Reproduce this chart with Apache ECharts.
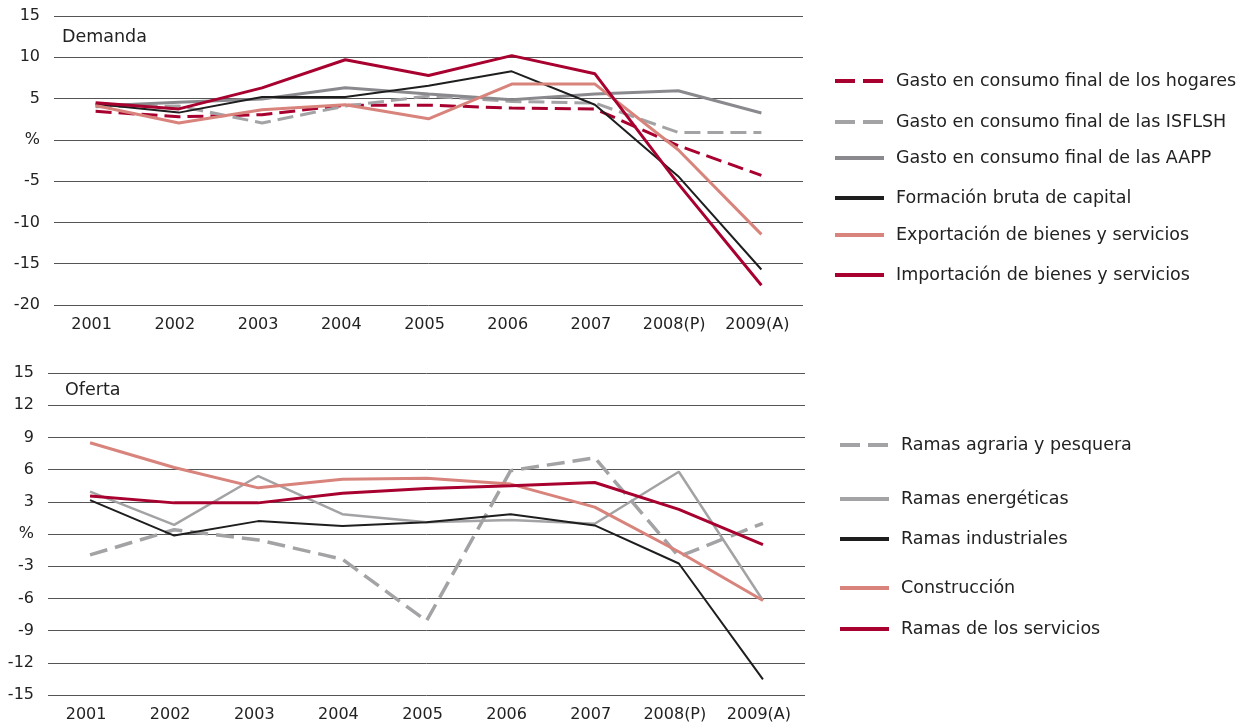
<!DOCTYPE html>
<html>
<head>
<meta charset="utf-8">
<title>Demanda y Oferta</title>
<script src="https://cdn.jsdelivr.net/npm/echarts@6/dist/echarts.min.js"></script>
<style>
  html, body { margin: 0; padding: 0; background: #fff; }
  #main { width: 1246px; height: 724px; }
</style>
</head>
<body>
<div id="main"></div>
<script>
// categorias (años)
var years = ['2001', '2002', '2003', '2004', '2005', '2006', '2007', '2008(P)', '2009(A)'];

// Demanda (%)
var hogares     = [3.45, 2.8, 3.05, 4.2, 4.2, 3.85, 3.75, -0.7, -4.3];
var isflsh      = [4.0, 4.1, 2.05, 4.1, 5.3, 4.65, 4.45, 0.9, 0.9];
var aapp        = [4.1, 4.55, 4.95, 6.3, 5.55, 4.85, 5.55, 5.95, 3.25];
var formacion   = [4.35, 3.3, 5.2, 5.2, 6.55, 8.3, 4.25, -4.4, -15.7];
var exportacion = [4.15, 2.05, 3.65, 4.25, 2.55, 6.75, 6.75, -1.2, -11.45];
var importacion = [4.5, 3.75, 6.3, 9.7, 7.8, 10.2, 8.0, -5.3, -17.6];

// Oferta (%)
var agraria      = [-1.95, 0.4, -0.55, -2.35, -8.1, 5.9, 7.1, -2.1, 1.0];
var energeticas  = [3.95, 0.85, 5.4, 1.85, 1.1, 1.3, 0.95, 5.8, -6.2];
var industriales = [3.15, -0.15, 1.2, 0.75, 1.1, 1.85, 0.8, -2.75, -13.55];
var construccion = [8.5, 6.2, 4.3, 5.1, 5.2, 4.65, 2.5, -1.65, -6.2];
var servicios    = [3.55, 2.9, 2.9, 3.8, 4.25, 4.5, 4.8, 2.3, -1.0];

var FONT = 'DejaVu Sans';
var crimson = '#a8002f', salmon = '#d8837b', black = '#1e1e1e';
var grayDark = '#8a8a8e', grayLight = '#a3a3a6';

var topSeries = [
  { name: 'Gasto en consumo final de los hogares', data: hogares, color: crimson, width: 3, dash: [16, 7] },
  { name: 'Gasto en consumo final de las ISFLSH', data: isflsh, color: grayLight, width: 3, dash: [16, 7] },
  { name: 'Gasto en consumo final de las AAPP', data: aapp, color: grayDark, width: 3, dash: 'solid' },
  { name: 'Formación bruta de capital', data: formacion, color: black, width: 2, dash: 'solid' },
  { name: 'Exportación de bienes y servicios', data: exportacion, color: salmon, width: 3, dash: 'solid' },
  { name: 'Importación de bienes y servicios', data: importacion, color: crimson, width: 3, dash: 'solid' }
];
var bottomSeries = [
  { name: 'Ramas agraria y pesquera', data: agraria, color: grayLight, width: 3.5, dash: [18, 8] },
  { name: 'Ramas energéticas', data: energeticas, color: grayLight, width: 2.5, dash: 'solid' },
  { name: 'Ramas industriales', data: industriales, color: black, width: 2, dash: 'solid' },
  { name: 'Construcción', data: construccion, color: salmon, width: 3, dash: 'solid' },
  { name: 'Ramas de los servicios', data: servicios, color: crimson, width: 3, dash: 'solid' }
];

// posicion vertical de cada entrada de leyenda
var topLegendY = [72, 113, 149, 189, 226, 266];
var bottomLegendY = [436, 490, 530, 579, 620];

function makeSeries(list, idx) {
  return list.map(function (s) {
    return {
      name: s.name,
      type: 'line',
      xAxisIndex: idx,
      yAxisIndex: idx,
      data: s.data,
      symbol: 'none',
      animation: false,
      color: s.color,
      lineStyle: { color: s.color, width: s.width, type: s.dash, cap: 'butt' }
    };
  });
}

function makeLegends(list, left, ys) {
  return list.map(function (s, i) {
    return {
      data: [s.name],
      left: left,
      top: ys[i],
      padding: 0,
      itemWidth: 49,
      itemHeight: 14,
      selectedMode: false,
      itemStyle: { opacity: 0 },
      lineStyle: { width: 4, type: s.dash === 'solid' ? 'solid' : [20, 8], cap: 'butt' },
      textStyle: { fontFamily: FONT, fontSize: 17.5, color: '#222', padding: [0, 0, 0, 7] }
    };
  });
}

function yAxis(idx, min, max, step) {
  return {
    type: 'value', gridIndex: idx, min: min, max: max, interval: step,
    axisLine: { show: false }, axisTick: { show: false },
    axisLabel: {
      margin: 14, fontFamily: FONT, fontSize: 16, color: '#222',
      formatter: function (v) { return v === 0 ? '%' : String(v); }
    },
    splitLine: { lineStyle: { color: '#555', width: 1 } }
  };
}

function xAxis(idx) {
  return {
    type: 'category', gridIndex: idx, data: years, boundaryGap: true,
    axisLine: { show: false }, axisTick: { show: false },
    axisLabel: {
      interval: 0, hideOverlap: false, margin: 12,
      fontFamily: FONT, fontSize: 16, color: '#222', padding: [0, 8, 0, 0]
    }
  };
}

var chart = echarts.init(document.getElementById('main'));
chart.setOption({
  animation: false,
  backgroundColor: '#fff',
  title: [
    { text: 'Demanda', left: 62, top: 28, padding: 0,
      textStyle: { fontFamily: FONT, fontSize: 17.5, fontWeight: 'normal', color: '#222' } },
    { text: 'Oferta', left: 65, top: 381, padding: 0,
      textStyle: { fontFamily: FONT, fontSize: 17.5, fontWeight: 'normal', color: '#222' } }
  ],
  legend: makeLegends(topSeries, 833, topLegendY).concat(makeLegends(bottomSeries, 838, bottomLegendY)),
  grid: [
    { left: 54, top: 16, width: 749, height: 289 },
    { left: 48, top: 373, width: 757, height: 322 }
  ],
  xAxis: [xAxis(0), xAxis(1)],
  yAxis: [yAxis(0, -20, 15, 5), yAxis(1, -15, 15, 3)],
  series: makeSeries(topSeries, 0).concat(makeSeries(bottomSeries, 1))
});
</script>
</body>
</html>
